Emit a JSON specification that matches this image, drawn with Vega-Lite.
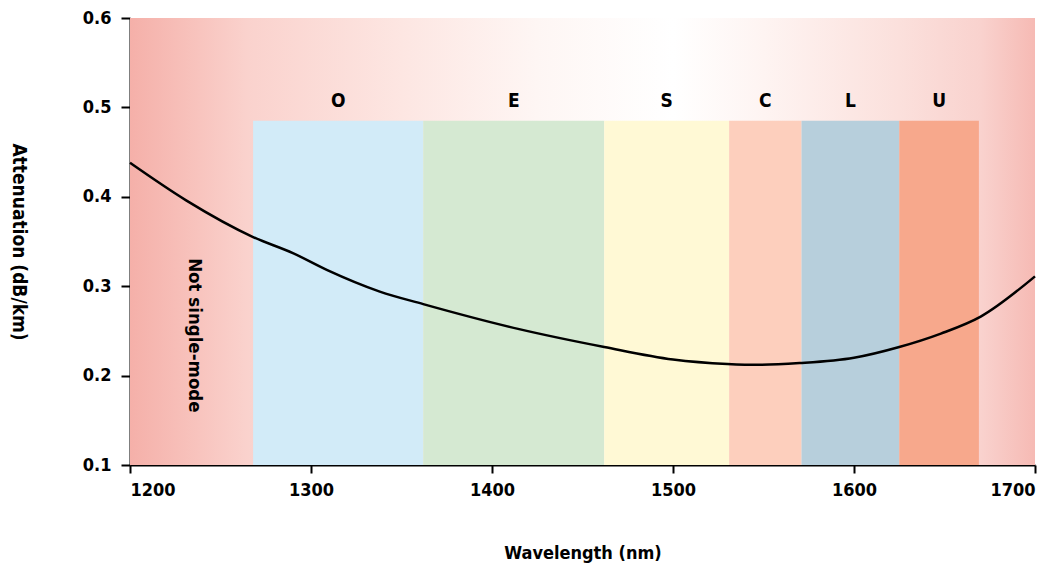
{
  "$schema": "https://vega.github.io/schema/vega-lite/v6.json",
  "autosize": "none",
  "width": 905,
  "height": 447,
  "padding": {"left": 130, "top": 18, "right": 25, "bottom": 106},
  "background": "white",
  "config": {
    "view": {"stroke": null},
    "font": "DejaVu Sans Condensed, Liberation Sans, sans-serif",
    "axis": {
      "domainColor": "black", "domainWidth": 2, "tickColor": "black", "tickWidth": 2,
      "labelColor": "black", "labelFont": "DejaVu Sans Condensed, Liberation Sans, sans-serif", "labelFontWeight": "bold", "labelFontSize": 18,
      "titleColor": "black", "titleFont": "DejaVu Sans Condensed, Liberation Sans, sans-serif", "titleFontWeight": "bold", "titleFontSize": 18,
      "grid": false
    }
  },
  "datasets": {
    "frame": [{"x0": 1200, "x1": 1700, "y0": 0.1, "y1": 0.6}],
    "bands": [
      {"band": "O", "start": 1268, "end": 1362, "bottom": 0.1, "top": 0.485, "color": "#d2ebf8"},
      {"band": "E", "start": 1362, "end": 1462, "bottom": 0.1, "top": 0.485, "color": "#d5e9d2"},
      {"band": "S", "start": 1462, "end": 1531, "bottom": 0.1, "top": 0.485, "color": "#fff9d5"},
      {"band": "C", "start": 1531, "end": 1571, "bottom": 0.1, "top": 0.485, "color": "#fdcfbd"},
      {"band": "L", "start": 1571, "end": 1625, "bottom": 0.1, "top": 0.485, "color": "#b7cfdc"},
      {"band": "U", "start": 1625, "end": 1669, "bottom": 0.1, "top": 0.485, "color": "#f7a88c"}
    ],
    "curve": [
      {"wl": 1200, "att": 0.438},
      {"wl": 1231, "att": 0.396},
      {"wl": 1268, "att": 0.355},
      {"wl": 1290, "att": 0.337},
      {"wl": 1309, "att": 0.318},
      {"wl": 1338, "att": 0.294},
      {"wl": 1362, "att": 0.280},
      {"wl": 1415, "att": 0.252},
      {"wl": 1462, "att": 0.232},
      {"wl": 1500, "att": 0.218},
      {"wl": 1530, "att": 0.213},
      {"wl": 1548, "att": 0.212},
      {"wl": 1570, "att": 0.214},
      {"wl": 1600, "att": 0.220},
      {"wl": 1625, "att": 0.232},
      {"wl": 1648, "att": 0.247},
      {"wl": 1670, "att": 0.266},
      {"wl": 1700, "att": 0.311}
    ],
    "note": [{"wl": 1236, "att": 0.245, "label": "Not single-mode"}]
  },
  "layer": [
    {
      "data": {"name": "frame"},
      "mark": {
        "type": "rect",
        "color": {
          "gradient": "linear", "x1": 0, "x2": 1, "y1": 0, "y2": 0,
          "stops": [
            {"offset": 0, "color": "#f5b0a9"},
            {"offset": 0.13, "color": "#fad2cd"},
            {"offset": 0.3, "color": "#fde6e2"},
            {"offset": 0.45, "color": "#fef6f4"},
            {"offset": 0.6, "color": "#ffffff"},
            {"offset": 0.7, "color": "#fef4f2"},
            {"offset": 0.85, "color": "#fbe0dc"},
            {"offset": 0.94, "color": "#f9d2ce"},
            {"offset": 1, "color": "#f6bab4"}
          ]
        }
      },
      "encoding": {
        "x": {"field": "x0", "type": "quantitative", "scale": {"domain": [1200, 1700], "nice": false},
              "axis": {"values": [1200, 1300, 1400, 1500, 1600, 1700], "format": "d", "tickSize": 8, "labelPadding": 8,
                       "title": "Wavelength (nm)", "titleX": 452.5, "titleY": 88, "titleBaseline": "middle"}},
        "x2": {"field": "x1"},
        "y": {"field": "y0", "type": "quantitative", "scale": {"domain": [0.1, 0.6], "nice": false},
              "axis": {"values": [0.1, 0.2, 0.3, 0.4, 0.5, 0.6], "format": ".1f", "tickSize": 9, "labelPadding": 10,
                       "title": "Attenuation (dB/km)", "titleFontSize": 19, "titleAngle": 90, "titleX": -112, "titleY": 223.5,
                       "titleAlign": "center", "titleBaseline": "middle"}},
        "y2": {"field": "y1"}
      }
    },
    {
      "data": {"name": "bands"},
      "mark": {"type": "rect"},
      "encoding": {
        "x": {"field": "start", "type": "quantitative"},
        "x2": {"field": "end"},
        "y": {"field": "bottom", "type": "quantitative"},
        "y2": {"field": "top"},
        "color": {"field": "color", "type": "nominal", "scale": null}
      }
    },
    {
      "data": {"name": "bands"},
      "transform": [{"calculate": "(datum.start + datum.end) / 2", "as": "mid"}],
      "mark": {"type": "text", "fontWeight": "bold", "fontSize": 19, "font": "DejaVu Sans Condensed, Liberation Sans, sans-serif", "color": "black", "baseline": "bottom", "dy": -10},
      "encoding": {
        "x": {"field": "mid", "type": "quantitative"},
        "y": {"field": "top", "type": "quantitative"},
        "text": {"field": "band"}
      }
    },
    {
      "data": {"name": "curve"},
      "mark": {"type": "line", "color": "black", "strokeWidth": 2.5, "interpolate": "monotone"},
      "encoding": {
        "x": {"field": "wl", "type": "quantitative"},
        "y": {"field": "att", "type": "quantitative"}
      }
    },
    {
      "data": {"name": "note"},
      "mark": {"type": "text", "angle": 90, "fontWeight": "bold", "fontSize": 18.5, "font": "DejaVu Sans Condensed, Liberation Sans, sans-serif", "color": "black", "align": "center", "baseline": "middle"},
      "encoding": {
        "x": {"field": "wl", "type": "quantitative"},
        "y": {"field": "att", "type": "quantitative"},
        "text": {"field": "label"}
      }
    }
  ]
}
